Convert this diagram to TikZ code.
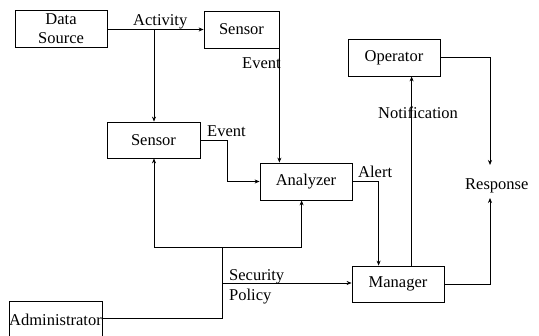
\documentclass[tikz,border=0pt]{standalone}
\usepackage{fontspec}
\setmainfont{Liberation Serif}
\usetikzlibrary{arrows.meta}
\begin{document}
\begin{tikzpicture}[x=1pt,y=-1pt,
  box/.style={draw, line width=0.8pt, rectangle, inner sep=0pt, align=center, font=\fontsize{16.5}{19}\selectfont},
  lbl/.style={inner sep=0pt, anchor=base west, font=\fontsize{16.5}{19}\selectfont},
  con/.style={line width=0.7pt},
  arr/.style={con, -{Stealth[length=5pt,width=4pt]}}]
\useasboundingbox (0,0) rectangle (539,336);
% boxes
\node[box, minimum width=92pt, minimum height=37pt] (ds) at (61,29) {Data\\Source};
\node[box, minimum width=75pt, minimum height=37pt] (s1) at (241.5,29.5) {Sensor};
\node[box, minimum width=93pt, minimum height=36pt] (s2) at (153.5,140) {Sensor};
\node[box, minimum width=92pt, minimum height=37pt] (an) at (306,181.5) {Analyzer};
\node[box, minimum width=92pt, minimum height=36pt] (mg) at (398,284) {Manager};
\node[box, minimum width=92pt, minimum height=37pt] (op) at (394,57.5) {Operator};
\node[box, minimum width=93pt, minimum height=38pt] (ad) at (55.5,320) {Administrator};
\node[lbl] (resp) at (465,190) {Response};
% coordinates
\coordinate (rtop) at (490,165);
\coordinate (rbot) at (490,198);
\coordinate (jt) at (222,247);
\coordinate (jm) at (222,283);
\coordinate (br) at (154,29);
% connectors
\draw[arr] (ds.east |- s1.west) -- (s1.west);
\draw[arr] (br) -- (br |- s2.north);
\draw[arr] (s1.south east) -- (s1.south east |- an.north);
\draw[arr] (s2.east) -- ++(27,0) |- (an.west);
\draw[arr] (an.east) -| ([xshift=27pt]mg.north west);
\draw[arr] ([xshift=60pt]mg.north west) -- ([xshift=60pt]mg.north west |- op.south);
\draw[arr] (op.east) -| (rtop);
\draw[arr] (mg.east) -| (rbot);
\draw[con] ([yshift=2pt]ad.east) -| (jt);
\draw[arr] (jt) -| (br |- s2.south);
\draw[arr] (jt) -| ([xshift=42pt]an.south west);
\draw[arr] (jm) -- (jm -| mg.west);
% labels
\node[lbl] (la) at (133,26) {Activity};
\node[lbl] (le1) at (242,69) {Event};
\node[lbl] (le2) at (207,137) {Event};
\node[lbl] (lal) at (358,178) {Alert};
\node[lbl] (lno) at (378,119) {Notification};
\node[lbl] (lse) at (229,281) {Security};
\node[lbl] (lpo) at (229,301) {Policy};
\end{tikzpicture}
\end{document}
